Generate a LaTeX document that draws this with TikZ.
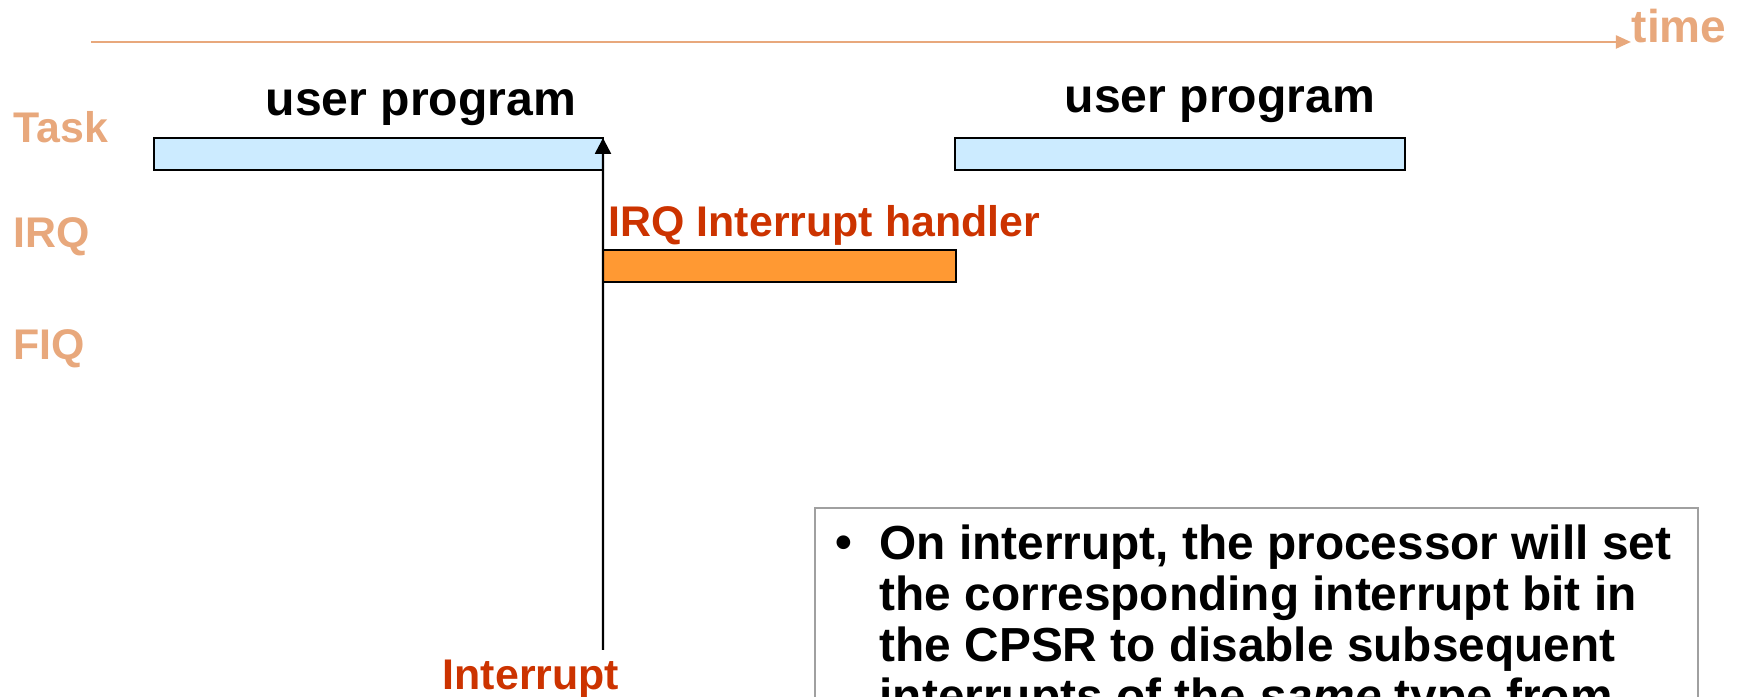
\documentclass[tikz,border=0pt]{standalone}
\usepackage{fontspec}
\setmainfont{Liberation Sans}
\usetikzlibrary{arrows.meta}
\definecolor{timecol}{RGB}{232,168,124}
\definecolor{irqred}{RGB}{204,51,0}
\definecolor{taskblue}{RGB}{204,235,255}
\definecolor{irqorange}{RGB}{255,153,51}
\definecolor{boxgray}{RGB}{160,160,160}
\begin{document}
\begin{tikzpicture}[
    mode/.style={font=\fontsize{12.2}{14}\selectfont\bfseries,text=timecol,anchor=base west,inner sep=0pt},
    bar/.style={draw,line width=0.6pt,minimum height=0.32cm,anchor=north west,inner sep=0pt,outer sep=0pt},
    title/.style={font=\fontsize{13.7}{16}\selectfont\bfseries,anchor=base,inner sep=0pt},
    redlabel/.style={font=\fontsize{12.2}{14}\selectfont\bfseries,text=irqred,inner sep=0pt}]
    \useasboundingbox (0,0) rectangle (17.48,-6.97);
    \clip (0,0) rectangle (17.48,-6.97);
    \node[font=\fontsize{13.1}{15}\selectfont\bfseries,text=timecol,anchor=base west,inner sep=0pt] (time) at (16.31,-0.43) {time};
    \coordinate (t0) at (0.91,-0.42);
    \draw[timecol,line width=0.7pt,-{Triangle[length=4.3pt,width=3.7pt]}] (t0) -- (t0 -| time.west);
    \node[mode] (task) at (0.13,-1.43) {Task};
    \node[mode] (irq) at (0.13,-2.48) {IRQ};
    \node[mode] (fiq) at (0.13,-3.60) {FIQ};
    \node[title] (prog1) at (4.21,-1.16) {user program};
    \node[title] (prog2) at (12.20,-1.13) {user program};
    \node[bar,fill=taskblue,minimum width=4.49cm] (user1) at (1.54,-1.38) {};
    \node[bar,fill=taskblue,minimum width=4.50cm] (user2) at (9.55,-1.38) {};
    \node[bar,fill=irqorange,minimum width=3.53cm] (handler) at (6.03,-2.50) {};
    \node[redlabel,anchor=base west] (handlertext) at (6.08,-2.37) {IRQ Interrupt handler};
    \node[redlabel,anchor=base] (intr) at (5.31,-6.90) {Interrupt};
    \coordinate (src) at (6.03,-6.50);
    \draw[line width=0.7pt,-{Triangle[length=4.5pt,width=4.5pt]}] (src) -- (user1.north east);
    % note box, runs off the bottom
    \node[draw=boxgray,line width=0.6pt,anchor=north west,minimum width=8.83cm,minimum height=2.5cm,inner sep=0pt] (note) at (8.14,-5.07) {};
    \node[font=\fontsize{13.6}{14.5}\selectfont\bfseries,anchor=base,inner sep=0pt] (bullet) at (8.44,-5.59) {•};
    \node[font=\fontsize{13.6}{14.5}\selectfont\bfseries,align=left,anchor=north west,inner sep=0pt] (notetext) at (8.79,-5.245)
        {On interrupt, the processor will set\\the corresponding interrupt bit in\\the CPSR to disable subsequent\\interrupts of the \textit{same} type from};
\end{tikzpicture}
\end{document}
